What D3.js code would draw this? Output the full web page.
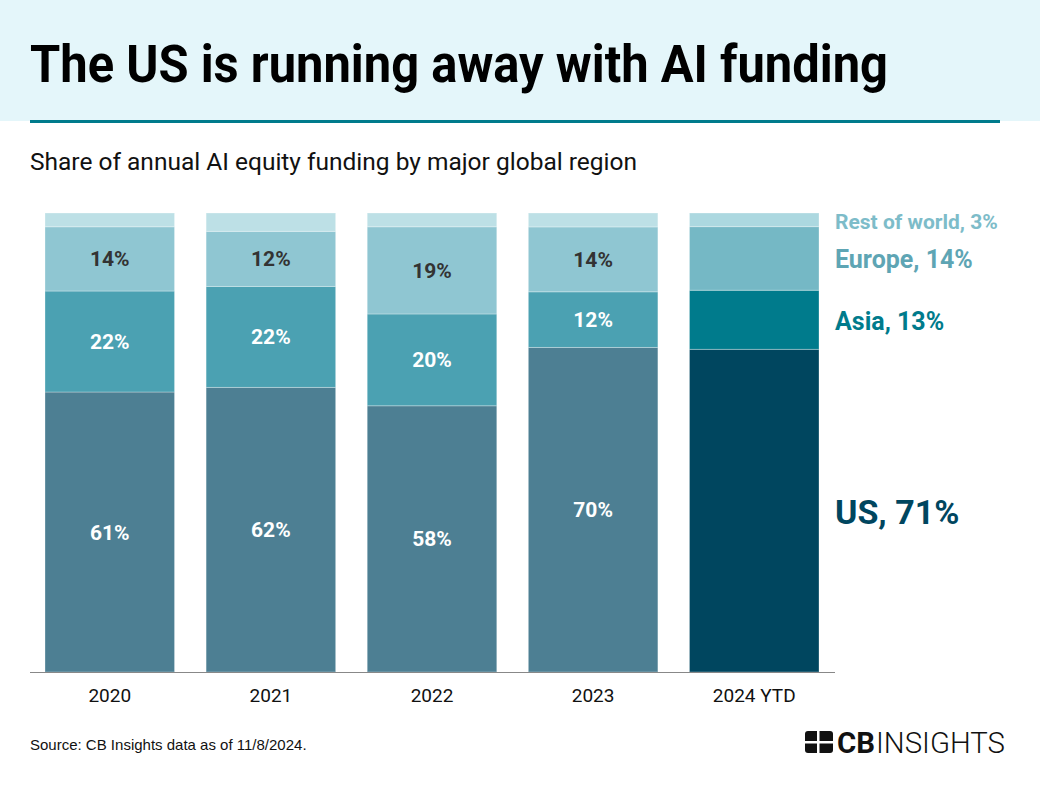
<!DOCTYPE html>
<html><head><meta charset="utf-8">
<script src="https://cdn.jsdelivr.net/npm/d3@7"></script>
<style>body{margin:0;background:#fff}svg{display:block;font-family:Roboto,"Noto Sans",sans-serif}</style>
</head><body>
<svg id="c" width="1040" height="789"></svg>
<script>
const years = ["2020","2021","2022","2023","2024 YTD"];
const regions = ["US","Asia","Europe","Rest of world"];
const us = [61,62,58,70,71];
const asia = [22,22,20,12,13];
const europe = [14,12,19,14,14];
const rest = [3,4,3,3,3];
const pastColors = {"US":"#4d7f93","Asia":"#4ba1b2","Europe":"#8fc6d2","Rest of world":"#bde0e6"};
const ytdColors = {"US":"#00465f","Asia":"#007b8c","Europe":"#75b8c5","Rest of world":"#acd8e0"};
const labelColors = {"US":"#00465f","Asia":"#007b8c","Europe":"#5ea5b4","Rest of world":"#7dbcc9"};

const rows = years.map((y,i)=>({year:y,"US":us[i],"Asia":asia[i],"Europe":europe[i],"Rest of world":rest[i]}));
const series = d3.stack().keys(regions).offset(d3.stackOffsetExpand)(rows);

const svg = d3.select("#c");
svg.append("rect").attr("x",0).attr("y",0).attr("width",1040).attr("height",121).attr("fill","#e4f6fa");
svg.append("rect").attr("x",30).attr("y",120).attr("width",970).attr("height",3).attr("fill","#007b8c");
svg.append("text").attr("x",30).attr("y",82).attr("font-size",51).attr("font-weight",700)
  .attr("fill","#000").attr("textLength",858).attr("lengthAdjust","spacingAndGlyphs")
  .text("The US is running away with AI funding");
svg.append("text").attr("x",30).attr("y",170).attr("font-size",24).attr("fill","#111")
  .attr("textLength",607).attr("lengthAdjust","spacingAndGlyphs")
  .text("Share of annual AI equity funding by major global region");

const x = d3.scaleBand().domain(years).range([45,819]).paddingInner(0.196).paddingOuter(0);
const y = d3.scaleLinear().domain([0,1]).range([672,213]);

const g = svg.append("g");
series.forEach(s=>{
  g.selectAll(null).data(s).join("rect")
    .attr("x",d=>x(d.data.year)).attr("width",x.bandwidth())
    .attr("y",d=>y(d[1])).attr("height",d=>y(d[0])-y(d[1]))
    .attr("fill",d=>d.data.year==="2024 YTD"?ytdColors[s.key]:pastColors[s.key])
    .attr("stroke","#ffffff").attr("stroke-opacity",0.3).attr("stroke-width",1);
});
// inside labels
series.forEach(s=>{
  if(s.key==="Rest of world") return;
  g.selectAll(null).data(s.filter(d=>d.data.year!=="2024 YTD")).join("text")
    .attr("x",d=>x(d.data.year)+x.bandwidth()/2)
    .attr("y",d=>(y(d[0])+y(d[1]))/2)
    .attr("dy","0.36em").attr("text-anchor","middle")
    .attr("font-size",21).attr("font-weight",700)
    .attr("fill",s.key==="Europe"?"#333":"#fff")
    .text(d=>d.data[s.key]+"%");
});
// axis
const ax = svg.append("g").attr("transform","translate(0,672)")
  .call(d3.axisBottom(x).tickSize(0).tickPadding(17));
ax.select(".domain").attr("stroke","#888").attr("d","M30,0.5H835");
ax.selectAll("text").attr("font-size",19).attr("fill","#111").attr("font-family","Roboto,sans-serif");

// right labels
const last = years.length-1;
const rl = [
  {k:"Rest of world",size:21,yy:221},
  {k:"Europe",size:25,yy:259},
  {k:"Asia",size:25,yy:321},
  {k:"US",size:34,yy:512}
];
const lastVals = {"US":us[last],"Asia":asia[last],"Europe":europe[last],"Rest of world":rest[last]};
rl.forEach(r=>{
  svg.append("text").attr("x",835).attr("y",r.yy).attr("dy","0.36em")
    .attr("font-size",r.size).attr("font-weight",700).attr("fill",labelColors[r.k])
    .text(r.k+", "+lastVals[r.k]+"%");
});

// footer
svg.append("text").attr("x",30).attr("y",750).attr("font-size",15).attr("fill","#111")
  .attr("font-family","'Liberation Sans',Arial,sans-serif")
  .text("Source: CB Insights data as of 11/8/2024.");
// logo
const lg = svg.append("g");
lg.append("rect").attr("x",805).attr("y",731).attr("width",28).attr("height",22).attr("rx",3).attr("fill","#111");
lg.append("rect").attr("x",817).attr("y",731).attr("width",2.5).attr("height",22).attr("fill","#fff");
lg.append("rect").attr("x",805).attr("y",741).attr("width",28).attr("height",2.5).attr("fill","#fff");
lg.append("text").attr("x",837).attr("y",753).attr("font-size",30).attr("font-weight",700).attr("fill","#111")
  .attr("textLength",38).attr("lengthAdjust","spacingAndGlyphs").text("CB");
lg.append("text").attr("x",876).attr("y",753).attr("font-size",30).attr("font-weight",300).attr("fill","#111")
  .attr("textLength",129).attr("lengthAdjust","spacingAndGlyphs").text("INSIGHTS");
</script>
</body></html>
